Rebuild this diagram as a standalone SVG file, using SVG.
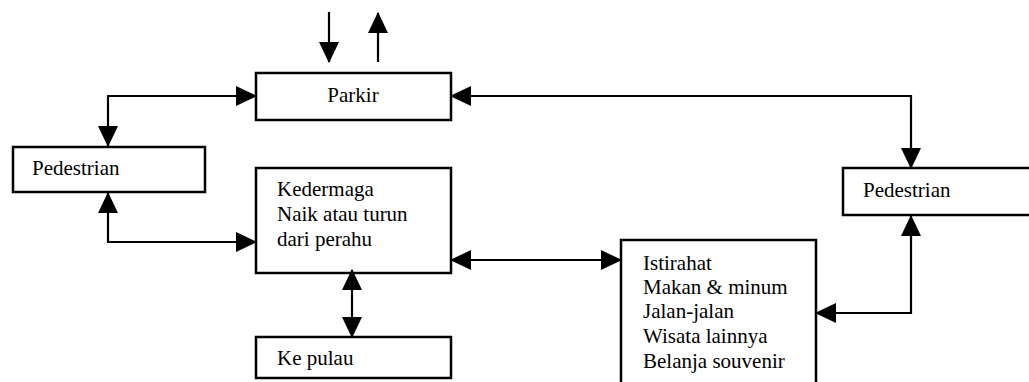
<svg xmlns="http://www.w3.org/2000/svg" width="1029" height="382" viewBox="0 0 1029 382">
<style>
.box{fill:#fff;stroke:#000;stroke-width:2.5}
.lbl{font-family:'Liberation Serif','DejaVu Serif',serif;font-size:21px;fill:#000}
.con{fill:none;stroke:#000;stroke-width:2.2;marker-start:url(#ah);marker-end:url(#ah)}
.one{fill:none;stroke:#000;stroke-width:2.2;marker-end:url(#ah)}
</style>
<defs>
<marker id="ah" viewBox="0 0 21 20" refX="20" refY="10" markerWidth="21" markerHeight="20" markerUnits="userSpaceOnUse" orient="auto-start-reverse">
<path d="M0 0 L21 10 L0 20 Z" fill="#000"/>
</marker>
</defs>
<rect width="1029" height="382" fill="#fff"/>
<g id="parkir"><rect class="box" x="256" y="73" width="195" height="47"/><text class="lbl" font-family="Liberation Serif" x="353" y="102" text-anchor="middle">Parkir</text></g>
<g id="pedestrian-left"><rect class="box" x="13" y="147" width="192" height="45"/><text class="lbl" font-family="Liberation Serif" x="32" y="175">Pedestrian</text></g>
<g id="kedermaga" font-family="Liberation Serif"><rect class="box" x="256" y="168" width="195" height="105"/><text class="lbl" x="277" y="196">Kedermaga</text><text class="lbl" x="277" y="221">Naik atau turun</text><text class="lbl" x="277" y="246">dari perahu</text></g>
<g id="ke-pulau"><rect class="box" x="256" y="337" width="195" height="41"/><text class="lbl" x="277" y="365">Ke pulau</text></g>
<g id="istirahat"><rect class="box" x="621" y="240" width="195" height="160"/><text class="lbl" x="643" y="270">Istirahat</text><text class="lbl" x="643" y="294">Makan &amp; minum</text><text class="lbl" x="643" y="318">Jalan-jalan</text><text class="lbl" x="643" y="343">Wisata lainnya</text><text class="lbl" x="643" y="368">Belanja souvenir</text></g>
<g id="pedestrian-right"><rect class="box" x="843" y="168" width="200" height="47"/><text class="lbl" x="863" y="197">Pedestrian</text></g>
<g id="connectors">
<path class="con" d="M256 96 H108 V146"/>
<path class="con" d="M451 96 H911 V168"/>
<path class="con" d="M108 193 V242 H256"/>
<path class="con" d="M352 270 V337"/>
<path class="con" d="M451 260 H621"/>
<path class="con" d="M816 313 H911 V216"/>
<path class="one" d="M329 12 V62"/>
<path class="one" d="M378 62 V13"/>
</g>
</svg>
